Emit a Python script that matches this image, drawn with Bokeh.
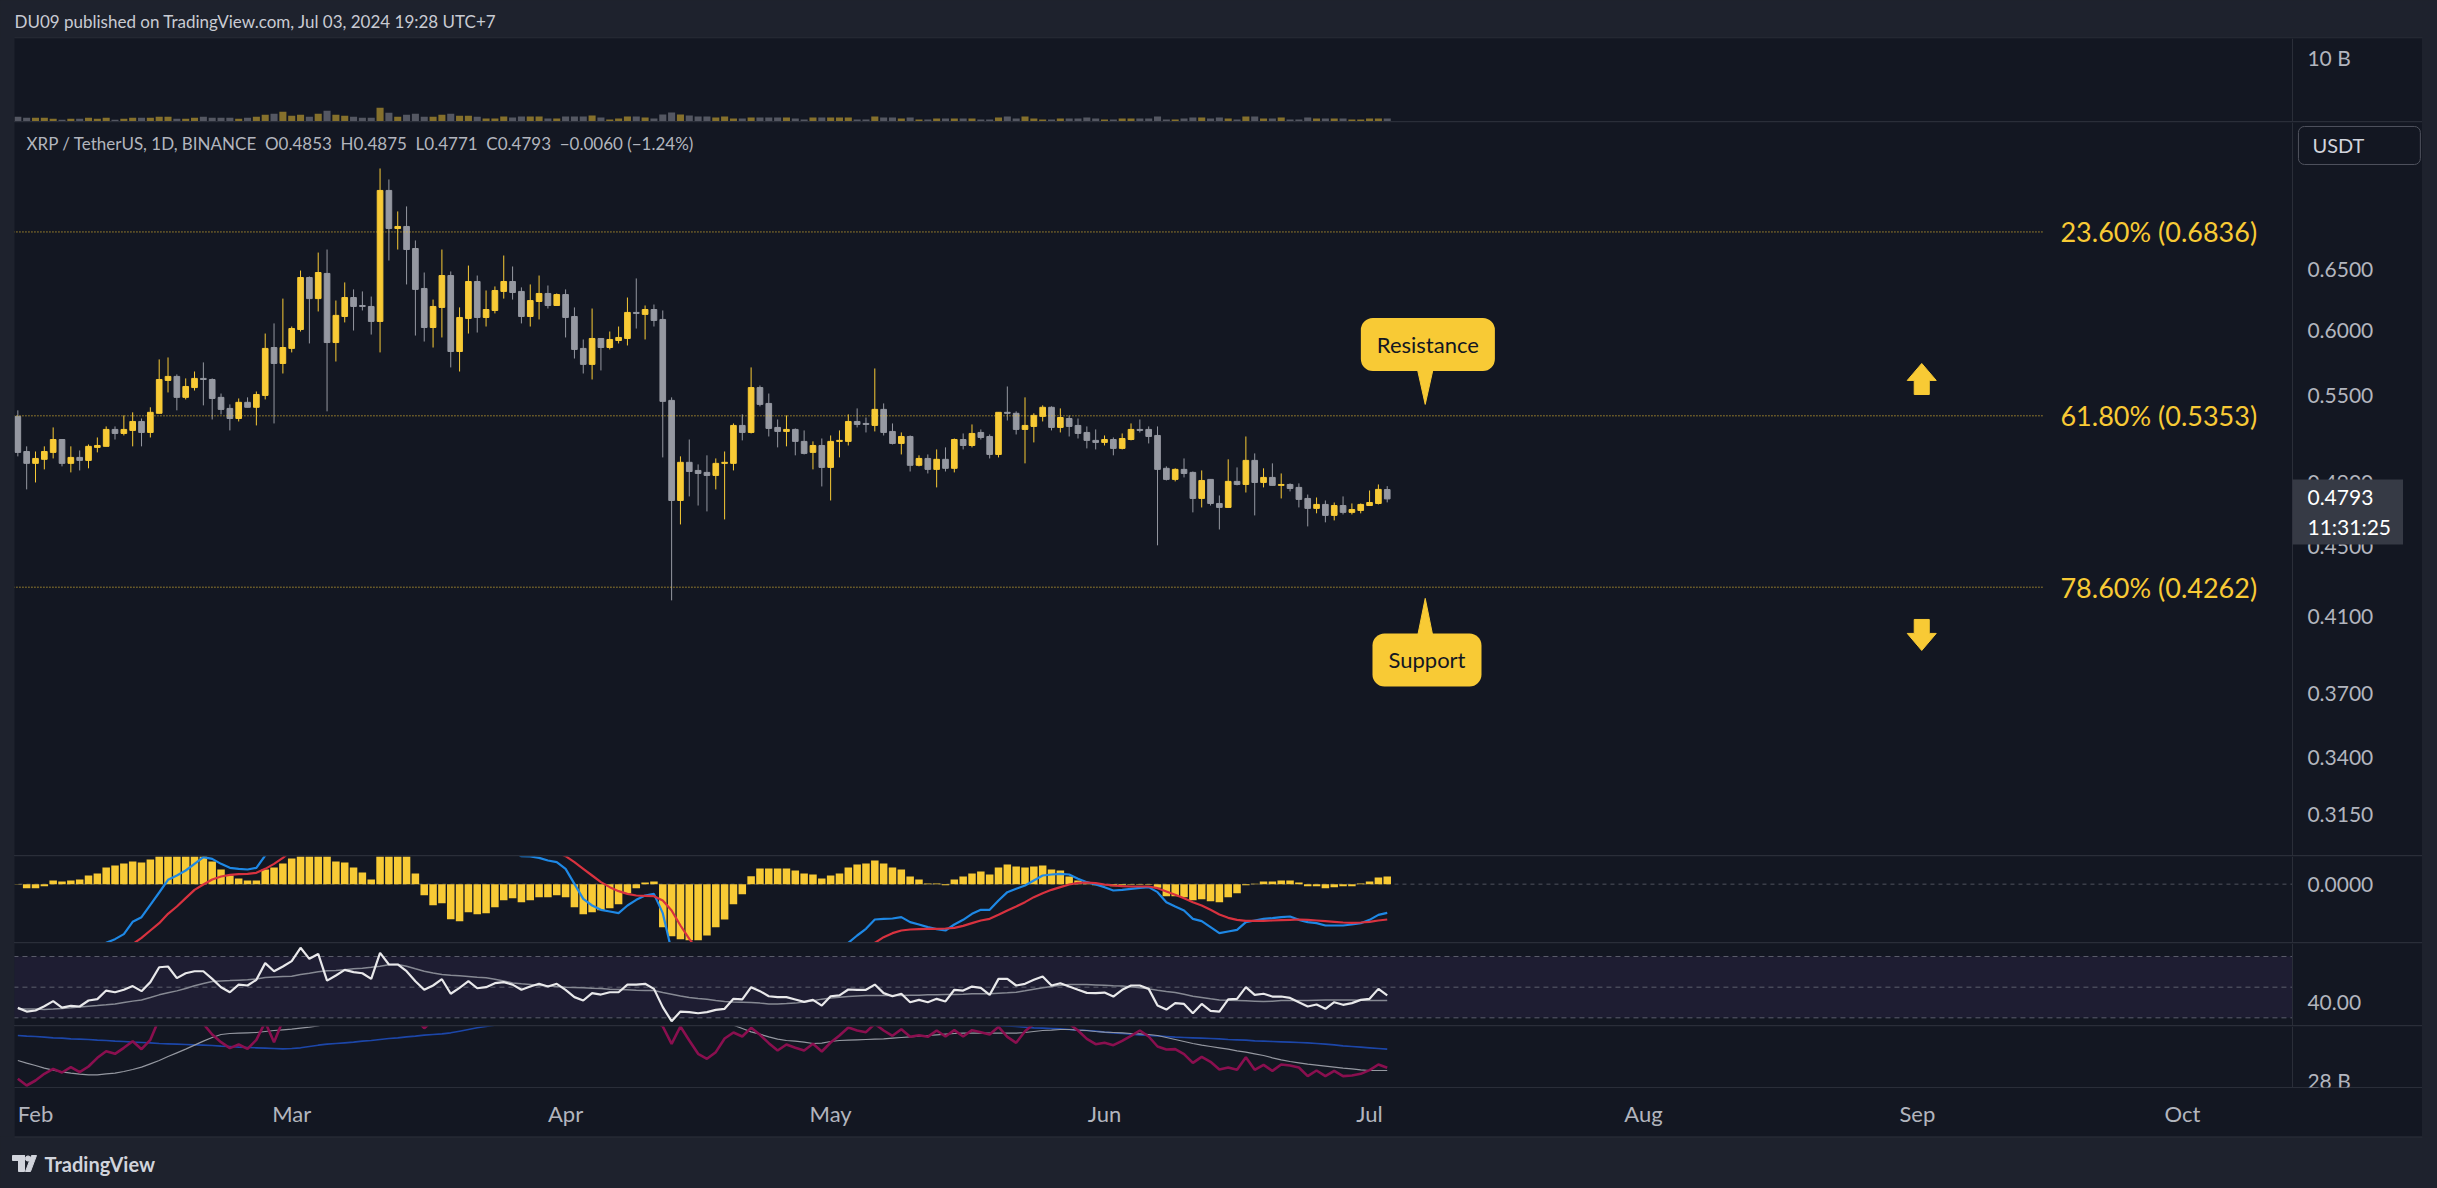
import pandas as pd
from bokeh.plotting import figure
from bokeh.layouts import column, row
from bokeh.models import (Range1d, FixedTicker, PrintfTickFormatter, DatetimeTickFormatter,
                          Span, BoxAnnotation, Label, Spacer, ColumnDataSource)
from bokeh.embed import file_html
from bokeh.resources import INLINE
from bokeh.core.properties import value

# ---------------------------------------------------------------- data
dates = pd.date_range("2024-01-30", "2024-07-03", freq="D")

open_ = [0.5349,0.5105,0.5025,0.5052,0.5099,0.5187,0.5025,0.5065,0.5045,0.5133,
 0.5140,0.5257,0.5229,0.5250,0.5313,0.5236,0.5371,0.5611,0.5641,0.5486,
 0.5558,0.5626,0.5618,0.5486,0.5406,0.5334,0.5450,0.5414,0.5500,0.5862,
 0.5739,0.5855,0.6004,0.6434,0.6256,0.6469,0.5901,0.6109,0.6265,0.6199,
 0.6191,0.6069,0.7224,0.6867,0.6886,0.6687,0.6341,0.6020,0.6183,0.6451,
 0.5831,0.6093,0.6400,0.6101,0.6158,0.6316,0.6400,0.6316,0.6109,0.6232,
 0.6299,0.6199,0.6290,0.6109,0.5855,0.5732,0.5933,0.5862,0.5917,0.5933,
 0.6142,0.6126,0.6166,0.6085,0.5464,0.4783,0.5032,0.4978,0.4965,0.4945,
 0.5025,0.5025,0.5285,0.5236,0.5558,0.5442,0.5271,0.5243,0.5257,0.5174,
 0.5099,0.5146,0.4998,0.5174,0.5174,0.5313,0.5299,0.5285,0.5399,0.5243,
 0.5160,0.5208,0.5012,0.5058,0.4985,0.5052,0.4992,0.5187,0.5146,0.5236,
 0.5208,0.5085,0.5378,0.5371,0.5257,0.5278,0.5349,0.5414,0.5271,0.5334,
 0.5285,0.5236,0.5181,0.5167,0.5187,0.5126,0.5187,0.5257,0.5257,0.5215,
 0.4992,0.4919,0.4985,0.4965,0.4796,0.4919,0.4764,0.4739,0.4906,0.4886,
 0.5045,0.4899,0.4932,0.4880,0.4886,0.4867,0.4796,0.4733,0.4758,0.4689,
 0.4751,0.4708,0.4720,0.4751,0.4764,0.4853]

high_ = [0.5392,0.5140,0.5105,0.5140,0.5271,0.5187,0.5140,0.5112,0.5153,0.5201,
 0.5278,0.5278,0.5356,0.5378,0.5334,0.5414,0.5770,0.5785,0.5656,0.5626,
 0.5678,0.5747,0.5626,0.5514,0.5435,0.5478,0.5486,0.5529,0.5972,0.6053,
 0.6256,0.6028,0.6494,0.6443,0.6651,0.6678,0.6240,0.6392,0.6333,0.6316,
 0.6273,0.7438,0.7330,0.7025,0.7072,0.6759,0.6477,0.6248,0.6678,0.6486,
 0.6183,0.6537,0.6451,0.6324,0.6358,0.6625,0.6529,0.6350,0.6375,0.6451,
 0.6366,0.6299,0.6333,0.6183,0.5925,0.6174,0.5933,0.5988,0.6028,0.6265,
 0.6426,0.6199,0.6207,0.6158,0.5486,0.5072,0.5187,0.5018,0.5079,0.5058,
 0.5105,0.5299,0.5363,0.5709,0.5573,0.5514,0.5327,0.5356,0.5264,0.5250,
 0.5174,0.5194,0.5215,0.5250,0.5363,0.5406,0.5341,0.5701,0.5442,0.5299,
 0.5236,0.5215,0.5079,0.5085,0.5119,0.5133,0.5194,0.5229,0.5292,0.5257,
 0.5222,0.5378,0.5566,0.5385,0.5486,0.5371,0.5428,0.5421,0.5406,0.5356,
 0.5334,0.5278,0.5257,0.5215,0.5201,0.5229,0.5299,0.5327,0.5278,0.5278,
 0.5005,0.4992,0.5058,0.4971,0.4978,0.4919,0.4815,0.5052,0.4998,0.5208,
 0.5092,0.4992,0.5025,0.4958,0.4893,0.4893,0.4821,0.4802,0.4783,0.4770,
 0.4809,0.4764,0.4764,0.4847,0.4886,0.4875]

low_ = [0.5072,0.4854,0.4899,0.4985,0.5058,0.5005,0.4965,0.4978,0.4992,0.5099,
 0.5140,0.5187,0.5215,0.5140,0.5140,0.5201,0.5371,0.5522,0.5392,0.5471,
 0.5536,0.5428,0.5327,0.5363,0.5250,0.5313,0.5414,0.5285,0.5471,0.5299,
 0.5663,0.5824,0.5988,0.5894,0.6150,0.5385,0.5754,0.6061,0.5996,0.6158,
 0.5964,0.5824,0.6581,0.6678,0.6375,0.5956,0.5909,0.5862,0.5941,0.5709,
 0.5678,0.5972,0.5980,0.6028,0.6134,0.6256,0.6248,0.6053,0.6028,0.6085,
 0.6174,0.6199,0.5941,0.5777,0.5663,0.5618,0.5686,0.5847,0.5894,0.5878,
 0.6012,0.5925,0.6028,0.5065,0.4188,0.4633,0.4809,0.4751,0.4714,0.4854,
 0.4664,0.4978,0.5181,0.5229,0.5421,0.5208,0.5133,0.5140,0.5079,0.5085,
 0.4985,0.4873,0.4783,0.5065,0.5146,0.5271,0.5236,0.5243,0.5215,0.5153,
 0.5085,0.4971,0.5005,0.4958,0.4867,0.4971,0.4965,0.5119,0.5133,0.5187,
 0.5058,0.5065,0.5320,0.5222,0.5025,0.5167,0.5313,0.5250,0.5236,0.5208,
 0.5194,0.5126,0.5119,0.5146,0.5079,0.5119,0.5181,0.5236,0.5160,0.4506,
 0.4912,0.4906,0.4932,0.4708,0.4739,0.4751,0.4602,0.4739,0.4880,0.4834,
 0.4689,0.4867,0.4880,0.4796,0.4841,0.4739,0.4621,0.4702,0.4646,0.4658,
 0.4695,0.4695,0.4702,0.4751,0.4758,0.4771]

close_ = [0.5099,0.5025,0.5058,0.5105,0.5187,0.5025,0.5065,0.5045,0.5140,0.5146,
 0.5257,0.5229,0.5257,0.5313,0.5236,0.5378,0.5618,0.5641,0.5486,0.5566,
 0.5626,0.5618,0.5478,0.5399,0.5334,0.5450,0.5414,0.5507,0.5855,0.5739,
 0.5862,0.6012,0.6434,0.6256,0.6477,0.5901,0.6118,0.6265,0.6191,0.6191,
 0.6069,0.7224,0.6867,0.6886,0.6678,0.6333,0.6020,0.6191,0.6451,0.5831,
 0.6101,0.6400,0.6101,0.6166,0.6324,0.6400,0.6307,0.6109,0.6240,0.6299,
 0.6199,0.6290,0.6101,0.5847,0.5732,0.5933,0.5862,0.5925,0.5941,0.6142,
 0.6134,0.6166,0.6077,0.5457,0.4783,0.5032,0.4971,0.4958,0.4945,0.5025,
 0.5032,0.5285,0.5236,0.5558,0.5435,0.5264,0.5243,0.5257,0.5174,0.5092,
 0.5146,0.4998,0.5174,0.5181,0.5313,0.5292,0.5292,0.5399,0.5236,0.5160,
 0.5208,0.5012,0.5058,0.4985,0.5052,0.4992,0.5187,0.5146,0.5229,0.5201,
 0.5085,0.5378,0.5371,0.5257,0.5285,0.5356,0.5414,0.5271,0.5341,0.5278,
 0.5229,0.5181,0.5167,0.5187,0.5126,0.5194,0.5257,0.5250,0.5208,0.4985,
 0.4919,0.4985,0.4958,0.4796,0.4912,0.4764,0.4739,0.4906,0.4886,0.5045,
 0.4899,0.4932,0.4880,0.4886,0.4860,0.4790,0.4733,0.4758,0.4689,0.4751,
 0.4708,0.4726,0.4758,0.4770,0.4854,0.4793]

volume_b = [0.73,0.58,0.58,0.58,0.42,0.27,0.42,0.42,0.58,0.42,
 0.58,0.27,0.42,0.58,0.58,0.58,0.73,0.73,0.42,0.42,
 0.58,0.73,0.58,0.58,0.58,0.42,0.58,0.73,1.05,1.20,
 1.51,0.89,1.05,0.73,1.20,1.67,1.05,0.89,0.73,0.58,
 0.58,2.14,1.36,0.73,1.05,1.20,0.73,0.73,1.05,1.20,
 0.89,0.89,0.73,0.47,0.47,0.78,0.62,0.78,0.78,0.78,
 0.47,0.47,0.78,0.78,0.78,0.94,0.62,0.31,0.47,0.78,
 0.78,0.62,0.47,1.09,1.40,1.09,0.94,0.78,0.78,0.62,
 0.78,0.47,0.47,0.62,0.62,0.62,0.62,0.62,0.47,0.31,
 0.62,0.62,0.62,0.62,0.62,0.31,0.31,0.78,0.62,0.62,
 0.47,0.62,0.31,0.31,0.47,0.47,0.47,0.47,0.47,0.31,
 0.31,0.62,0.78,0.47,0.78,0.47,0.31,0.31,0.47,0.47,
 0.47,0.62,0.47,0.31,0.31,0.47,0.47,0.47,0.47,0.78,
 0.31,0.31,0.47,0.62,0.62,0.47,0.62,0.47,0.31,0.78,
 0.78,0.47,0.47,0.62,0.31,0.31,0.62,0.47,0.47,0.47,
 0.47,0.31,0.31,0.47,0.47,0.47]

macd_hist = [-0.0001,-0.0012,-0.0012,-0.0006,0.0011,0.0008,0.0011,0.0014,0.0026,0.0032,
 0.0050,0.0056,0.0062,0.0068,0.0065,0.0074,0.0092,0.0098,0.0101,0.0097,
 0.0094,0.0088,0.0068,0.0044,0.0026,0.0017,0.0011,0.0011,0.0044,0.0050,
 0.0062,0.0077,0.0090,0.0096,0.0099,0.0092,0.0068,0.0065,0.0050,0.0035,
 0.0014,0.0095,0.0120,0.0118,0.0100,0.0032,-0.0033,-0.0063,-0.0057,-0.0105,
 -0.0111,-0.0084,-0.0090,-0.0087,-0.0069,-0.0048,-0.0042,-0.0054,-0.0048,-0.0039,
 -0.0039,-0.0033,-0.0039,-0.0069,-0.0090,-0.0084,-0.0078,-0.0072,-0.0060,-0.0027,
 -0.0012,0.0005,0.0008,-0.0129,-0.0156,-0.0165,-0.0168,-0.0168,-0.0154,-0.0129,
 -0.0106,-0.0060,-0.0030,0.0024,0.0047,0.0047,0.0047,0.0047,0.0041,0.0032,
 0.0029,0.0017,0.0026,0.0032,0.0050,0.0059,0.0062,0.0071,0.0062,0.0050,
 0.0044,0.0023,0.0014,0.0002,0.0002,-0.0003,0.0014,0.0023,0.0032,0.0038,
 0.0029,0.0050,0.0059,0.0053,0.0050,0.0053,0.0056,0.0044,0.0041,0.0023,
 0.0011,0.0003,-0.0003,-0.0003,-0.0006,-0.0003,-0.0002,-0.0002,-0.0002,-0.0011,
 -0.0036,-0.0036,-0.0039,-0.0048,-0.0045,-0.0051,-0.0054,-0.0039,-0.0027,-0.0003,
 0.0001,0.0008,0.0008,0.0011,0.0011,0.0005,-0.0006,-0.0006,-0.0012,-0.0009,
 -0.0006,-0.0006,0.0002,0.0008,0.0020,0.0023]

macd_line = [-0.0293,-0.0300,-0.0295,-0.0283,-0.0259,-0.0254,-0.0243,-0.0232,-0.0212,-0.0200,
 -0.0176,-0.0165,-0.0150,-0.0113,-0.0099,-0.0062,-0.0025,0.0013,0.0026,0.0041,
 0.0061,0.0081,0.0076,0.0061,0.0049,0.0046,0.0044,0.0049,0.0086,0.0100,
 0.0118,0.0140,0.0170,0.0190,0.0205,0.0215,0.0222,0.0225,0.0224,0.0218,
 0.0212,0.0250,0.0275,0.0285,0.0282,0.0270,0.0250,0.0232,0.0218,0.0195,
 0.0178,0.0165,0.0150,0.0137,0.0125,0.0112,0.0098,0.0084,0.0083,0.0079,
 0.0071,0.0066,0.0046,0.0001,-0.0044,-0.0064,-0.0077,-0.0082,-0.0087,-0.0064,
 -0.0047,-0.0034,-0.0029,-0.0087,-0.0200,-0.0245,-0.0285,-0.0310,-0.0325,-0.0330,
 -0.0325,-0.0310,-0.0290,-0.0262,-0.0240,-0.0222,-0.0210,-0.0200,-0.0195,-0.0192,
 -0.0190,-0.0188,-0.0185,-0.0182,-0.0176,-0.0154,-0.0134,-0.0106,-0.0104,-0.0103,
 -0.0099,-0.0114,-0.0121,-0.0129,-0.0135,-0.0139,-0.0121,-0.0107,-0.0089,-0.0077,
 -0.0077,-0.0049,-0.0024,-0.0014,-0.0004,0.0011,0.0026,0.0029,0.0031,0.0029,
 0.0016,0.0006,-0.0001,-0.0009,-0.0019,-0.0017,-0.0014,-0.0011,-0.0009,-0.0024,
 -0.0054,-0.0067,-0.0079,-0.0104,-0.0111,-0.0129,-0.0147,-0.0142,-0.0137,-0.0114,
 -0.0109,-0.0104,-0.0102,-0.0099,-0.0097,-0.0107,-0.0114,-0.0117,-0.0124,-0.0124,
 -0.0124,-0.0121,-0.0117,-0.0107,-0.0092,-0.0086]

signal_line = [-0.0292,-0.0288,-0.0283,-0.0277,-0.0270,-0.0262,-0.0254,-0.0246,-0.0238,-0.0232,
 -0.0226,-0.0221,-0.0212,-0.0180,-0.0161,-0.0139,-0.0117,-0.0089,-0.0067,-0.0042,
 -0.0017,-0.0001,0.0014,0.0023,0.0028,0.0030,0.0031,0.0034,0.0046,0.0061,
 0.0079,0.0100,0.0120,0.0140,0.0160,0.0178,0.0192,0.0203,0.0210,0.0214,
 0.0216,0.0222,0.0232,0.0242,0.0250,0.0255,0.0257,0.0256,0.0253,0.0248,
 0.0240,0.0230,0.0220,0.0208,0.0195,0.0180,0.0165,0.0150,0.0136,0.0122,
 0.0108,0.0095,0.0084,0.0066,0.0046,0.0026,0.0006,-0.0009,-0.0021,-0.0029,
 -0.0034,-0.0035,-0.0036,-0.0049,-0.0079,-0.0124,-0.0164,-0.0200,-0.0225,-0.0245,
 -0.0260,-0.0270,-0.0275,-0.0275,-0.0272,-0.0268,-0.0262,-0.0255,-0.0248,-0.0240,
 -0.0232,-0.0225,-0.0218,-0.0210,-0.0202,-0.0195,-0.0188,-0.0176,-0.0159,-0.0147,
 -0.0139,-0.0136,-0.0135,-0.0134,-0.0134,-0.0133,-0.0131,-0.0125,-0.0117,-0.0109,
 -0.0104,-0.0092,-0.0079,-0.0067,-0.0054,-0.0039,-0.0027,-0.0017,-0.0009,-0.0001,
 0.0004,0.0005,0.0003,-0.0001,-0.0004,-0.0006,-0.0007,-0.0007,-0.0007,-0.0012,
 -0.0022,-0.0032,-0.0042,-0.0054,-0.0064,-0.0077,-0.0091,-0.0101,-0.0107,-0.0110,
 -0.0110,-0.0110,-0.0109,-0.0108,-0.0107,-0.0106,-0.0107,-0.0109,-0.0111,-0.0113,
 -0.0115,-0.0116,-0.0115,-0.0113,-0.0109,-0.0106]

rsi = [36.5,34.1,34.8,37.6,40.9,36.7,37.8,37.4,41.3,42.2,
 47.8,46.7,48.3,50.7,47.4,53.3,63.0,63.5,55.9,59.1,
 60.4,60.4,55.4,50.0,46.7,51.7,51.1,54.8,65.7,60.4,
 63.5,67.0,75.7,68.5,71.7,54.3,57.6,61.3,59.8,59.1,
 55.4,72.4,64.8,64.8,60.4,53.9,48.3,51.1,55.2,45.7,
 49.6,53.9,49.3,50.0,52.6,53.3,51.7,48.3,50.4,52.2,
 50.4,52.2,48.3,43.5,41.3,46.1,45.2,46.7,46.7,51.7,
 51.7,52.2,48.9,37.0,27.8,34.1,33.7,33.0,33.7,35.2,
 35.9,42.4,42.0,50.0,47.4,44.1,43.5,43.5,42.0,40.4,
 41.7,38.0,44.1,44.6,48.5,48.3,48.3,51.7,46.1,44.1,
 45.7,40.2,41.7,40.2,42.4,40.7,48.3,47.8,50.4,49.6,
 45.0,55.4,55.4,51.1,52.2,54.8,57.0,51.1,52.6,50.4,
 48.3,46.3,46.1,46.5,43.9,48.3,51.1,51.1,48.9,38.0,
 35.4,39.6,39.1,33.0,39.1,34.6,34.1,42.0,42.4,50.0,
 45.0,45.7,43.9,43.9,43.0,40.2,37.4,38.7,35.9,40.2,
 38.5,39.6,41.7,42.4,48.9,44.6]

rsi_ma = [35.9,35.8,35.7,35.4,35.7,36.1,36.5,37.0,37.6,38.0,
 38.5,39.1,40.0,40.9,41.7,43.3,45.0,46.3,47.6,49.1,
 50.9,52.4,53.7,54.1,54.3,54.6,54.8,55.4,56.3,56.7,
 57.0,57.2,58.3,59.1,60.0,60.7,60.9,61.3,62.0,62.4,
 63.0,63.7,64.6,64.8,63.7,62.0,60.4,59.3,58.3,57.8,
 57.4,57.0,56.5,56.1,55.2,54.1,52.8,52.2,51.7,51.1,
 50.9,50.4,50.0,49.8,49.6,49.3,49.1,48.7,48.5,48.3,
 48.0,47.8,47.8,46.5,45.4,44.3,43.3,42.6,42.2,41.3,
 40.7,40.4,40.2,40.0,39.6,39.1,39.1,39.3,39.6,40.4,
 41.1,42.2,43.0,43.5,43.9,44.3,44.6,44.6,44.6,44.6,
 44.6,44.8,44.8,45.0,45.0,45.2,45.2,45.4,45.7,45.7,
 45.7,46.1,46.3,46.7,47.6,48.7,49.6,50.4,51.3,51.7,
 51.7,51.7,51.5,51.3,50.9,50.7,50.2,49.6,48.9,48.0,
 47.2,46.5,45.4,44.1,43.3,42.4,41.7,41.5,41.3,41.1,
 40.9,40.7,40.9,41.3,41.3,41.3,41.3,41.5,41.7,41.7,
 41.7,41.7,41.5,41.3,41.3,41.3]

# bottom pane (billions)
ind_maroon = [28.25,27.25,28.0,29.0,29.75,29.2,30.0,29.25,30.1,31.4,
 32.4,32.0,32.9,33.9,32.7,34.1,37.25,38.0,37.75,38.25,
 38.5,36.5,34.9,33.75,32.85,33.4,32.75,34.1,36.75,33.75,
 37.0,37.75,38.25,38.75,39.0,38.5,38.0,38.25,38.75,38.5,
 38.0,39.0,39.5,39.0,38.25,37.25,35.85,37.0,37.5,36.75,
 36.5,37.0,37.25,37.5,37.75,37.5,37.25,37.0,37.25,37.5,
 37.75,37.5,37.25,37.0,36.75,37.0,37.25,37.5,37.25,37.0,
 37.1,37.25,37.0,36.1,33.5,36.1,34.0,32.0,31.25,32.25,
 34.3,35.2,34.6,35.9,34.85,33.6,32.5,33.4,32.9,32.5,
 33.5,32.35,33.7,34.75,35.95,35.5,35.25,36.5,35.5,34.7,
 35.7,34.55,34.8,34.55,35.5,34.6,35.55,34.6,35.55,35.25,
 34.9,36.05,34.55,33.65,35.4,36.5,37.0,37.25,37.0,36.5,
 35.5,34.25,33.45,33.65,33.3,33.95,34.7,35.5,34.6,33.1,
 32.65,32.7,31.95,30.65,31.55,30.8,29.65,29.95,29.6,31.5,
 29.6,30.35,29.45,30.4,30.25,29.95,28.65,29.5,28.65,29.45,
 28.65,28.75,29.0,29.55,30.4,29.9]

ind_grey = [31.0,30.6,30.25,29.85,29.55,29.3,29.1,28.95,28.85,28.85,
 29.0,29.1,29.35,29.65,30.0,30.5,31.0,31.6,32.15,32.7,
 33.3,33.9,34.45,34.9,35.05,35.1,35.15,35.2,35.35,35.5,
 35.6,35.7,35.85,36.0,36.2,36.5,36.75,37.0,37.2,37.4,
 37.6,37.8,38.0,38.2,38.4,38.5,38.6,38.65,38.7,38.75,
 38.75,38.75,38.7,38.65,38.6,38.55,38.5,38.4,38.3,38.2,
 38.1,38.0,37.9,37.8,37.7,37.6,37.6,37.7,37.8,37.9,
 37.95,38.0,38.0,37.95,37.9,37.8,37.65,37.45,37.2,36.9,
 36.6,36.3,35.8,35.3,34.95,34.55,34.2,34.0,33.9,33.75,
 33.55,33.6,33.85,34.0,34.05,34.1,34.15,34.2,34.25,34.35,
 34.45,34.55,34.65,34.75,34.85,34.95,35.05,35.1,35.1,35.1,
 35.1,35.1,35.1,35.1,35.2,35.35,35.5,35.55,35.65,35.65,
 35.55,35.5,35.35,35.25,35.2,35.15,35.05,35.0,34.9,34.75,
 34.45,34.15,33.85,33.55,33.3,33.1,32.9,32.7,32.45,32.25,
 32.0,31.75,31.4,31.1,30.85,30.65,30.45,30.3,30.15,30.0,
 29.85,29.75,29.6,29.5,29.5,29.5]

ind_blue = [34.75,34.65,34.6,34.5,34.4,34.35,34.25,34.2,34.15,34.05,
 34.0,33.9,33.85,33.75,33.7,33.65,33.55,33.5,33.45,33.4,
 33.35,33.3,33.25,33.15,33.1,33.0,32.95,32.9,32.85,32.8,
 32.75,32.8,32.9,33.1,33.3,33.45,33.55,33.65,33.75,33.9,
 34.0,34.15,34.3,34.4,34.55,34.65,34.8,34.9,35.0,35.15,
 35.4,35.65,35.9,36.1,36.3,36.5,36.7,36.9,37.1,37.3,
 37.45,37.6,37.75,37.9,38.05,38.2,38.3,38.4,38.5,38.6,
 38.7,38.75,38.8,38.85,38.9,38.95,39.0,39.0,39.0,39.0,
 39.0,38.95,38.9,38.85,38.8,38.75,38.7,38.6,38.5,38.4,
 38.3,38.2,38.1,38.0,37.9,37.8,37.7,37.6,37.5,37.4,
 37.3,37.2,37.1,37.0,36.9,36.8,36.7,36.6,36.5,36.4,
 36.3,36.25,36.2,36.1,36.0,35.9,35.85,35.8,35.75,35.65,
 35.55,35.5,35.4,35.25,35.15,35.05,34.95,34.85,34.75,34.7,
 34.6,34.5,34.45,34.4,34.35,34.3,34.25,34.15,34.1,34.05,
 33.95,33.9,33.85,33.8,33.75,33.7,33.65,33.55,33.45,33.35,
 33.2,33.1,33.0,32.9,32.8,32.7]

price_ticks = [0.315, 0.34, 0.37, 0.41, 0.45, 0.49, 0.55, 0.60, 0.65]
month_ticks = ["2024-02-01", "2024-03-01", "2024-04-01", "2024-05-01", "2024-06-01",
               "2024-07-01", "2024-08-01", "2024-09-01", "2024-10-01"]
fib_pct = ["23.60%", "61.80%", "78.60%"]
fib_price = [0.6836, 0.5353, 0.4262]
last_price = 0.4793
countdown = "11:31:25"
header_text = "DU09 published on TradingView.com, Jul 03, 2024 19:28 UTC+7"
legend_text = ("XRP / TetherUS, 1D, BINANCE\u00a0\u00a0O0.4853\u00a0\u00a0H0.4875\u00a0\u00a0"
               "L0.4771\u00a0\u00a0C0.4793\u00a0\u00a0\u22120.0060 (\u22121.24%)")

# ---------------------------------------------------------------- style
BG = "#131722"; PAGE = "#1e222d"; GRID = "#2a2e39"; TXT = "#b2b5be"
UP = "#f8ca35"; DOWN = "#9598a1"
FONT = "Lato"
DAY = 86400000.0

def ms(ts):
    return pd.Timestamp(ts).value / 1e6

FEB1 = pd.Timestamp("2024-02-01")
def d(days):
    return ms(FEB1 + pd.Timedelta(days=days))

# frame spans the plot area plus the price-scale strip on the right
XR = Range1d(start=d(-2.377), end=d(270.18))
AXIS_X = d(255.46)          # where the price scale begins

def style_yaxis(p, ticks, fmt, size="21px"):
    ax = p.yaxis[0]
    ax.fixed_location = AXIS_X
    ax.ticker = FixedTicker(ticks=ticks)
    ax.formatter = PrintfTickFormatter(format=fmt)
    ax.major_tick_line_color = None
    ax.minor_tick_line_color = None
    ax.major_tick_out = 0
    ax.major_tick_in = 0
    ax.axis_line_color = GRID
    ax.major_label_text_color = TXT
    ax.major_label_text_font = FONT
    ax.major_label_text_font_size = size
    ax.major_label_standoff = 15

def pane(h, yr, ytype="linear", bottom=0):
    p = figure(width=2408, height=h, x_range=XR, y_range=yr, x_axis_type="datetime",
               y_axis_type=ytype, y_axis_location="right",
               x_axis_location=("below" if bottom else None),
               toolbar_location=None, output_backend="svg",
               min_border_left=0, min_border_right=0, min_border_top=0,
               min_border_bottom=bottom, background_fill_color=BG,
               border_fill_color=BG, outline_line_color=None)
    p.xgrid.visible = False
    p.ygrid.visible = False
    return p

up = [c >= o for o, c in zip(open_, close_)]
src = ColumnDataSource(dict(
    x=[ms(t) for t in dates], o=open_, h=high_, l=low_, c=close_,
    top=[max(o, c) for o, c in zip(open_, close_)],
    bot=[min(o, c) for o, c in zip(open_, close_)],
    col=[UP if u else DOWN for u in up], vol=volume_b,
    hist=macd_hist, macd=macd_line, sig=signal_line, rsi=rsi, rsi_ma=rsi_ma,
    maroon=ind_maroon, grey=ind_grey, blue=ind_blue))

# ---------------------------------------------------------------- volume pane
pv = pane(83, Range1d(0, 12.97))
style_yaxis(pv, [10], "%d B")
pv.vbar(x="x", top="vol", bottom=0, width=0.8 * DAY, source=src,
        fill_color="col", fill_alpha=0.5, line_color=None)

# ---------------------------------------------------------------- main pane
pm = pane(733, Range1d(0.2983, 0.7907), ytype="log")
style_yaxis(pm, price_ticks, "%.4f")
pm.segment(x0="x", y0="h", x1="x", y1="l", source=src, line_color="col", line_width=1)
pm.vbar(x="x", top="top", bottom="bot", width=0.64 * DAY, source=src,
        fill_color="col", line_color="col", line_width=1)

for pct, lvl in zip(fib_pct, fib_price):
    pm.segment(x0=[d(-30)], y0=[lvl], x1=[d(227.3)], y1=[lvl],
               line_color=UP, line_width=1, line_dash="1 2")
    pm.add_layout(Label(x=d(229.2), y=lvl, text=f"{pct} ({lvl:.4f})",
                        text_color=UP, text_font=FONT, text_font_size="27px",
                        text_align="left", text_baseline="middle"))

pm.add_layout(Label(x=d(-1.02), y=0.769, text=legend_text, text_color=TXT,
                    text_font=FONT, text_font_size="17px", text_align="left",
                    text_baseline="middle"))

# arrows
pm.patch(x=[d(211.86), d(213.5), d(215.14), d(214.35), d(214.35), d(212.65), d(212.65)],
         y=[0.5611, 0.5739, 0.5611, 0.5611, 0.5507, 0.5507, 0.5611],
         fill_color=UP, line_color=UP)
pm.patch(x=[d(212.65), d(214.35), d(214.35), d(215.14), d(213.5), d(211.86), d(212.65)],
         y=[0.4083, 0.4083, 0.4008, 0.4008, 0.3918, 0.4008, 0.4008],
         fill_color=UP, line_color=UP)

# callouts
pm.patch(x=[d(156.4), d(157.3), d(158.2)], y=[0.5700, 0.5435, 0.5700],
         fill_color=UP, line_color=UP)
pm.add_layout(Label(x=d(157.6), y=0.5886, text="Resistance", text_color=BG,
                    text_font=FONT, text_font_size="22px", text_align="center",
                    text_baseline="middle", background_fill_color=UP,
                    border_radius=12, padding=dict(left=16, right=16, top=13, bottom=13)))
pm.patch(x=[d(156.4), d(157.3), d(158.2)], y=[0.3985, 0.4199, 0.3985],
         fill_color=UP, line_color=UP)
pm.add_layout(Label(x=d(157.5), y=0.3869, text="Support", text_color=BG,
                    text_font=FONT, text_font_size="22px", text_align="center",
                    text_baseline="middle", background_fill_color=UP,
                    border_radius=12, padding=dict(left=16, right=16, top=13, bottom=13)))

# price-scale badges
pm.add_layout(Label(x=AXIS_X, y=0.7669, x_offset=6, text="USDT", text_color="#d1d4dc",
                    text_font=FONT, text_font_size="20px", text_align="left",
                    text_baseline="middle", background_fill_color=BG,
                    border_line_color="#50535e", border_radius=6,
                    padding=dict(left=14, right=56, top=7, bottom=7)))
pm.add_layout(Label(x=AXIS_X, y=last_price, y_offset=-13,
                    text=f"{last_price:.4f}\n{countdown}", text_color="#ffffff",
                    text_font=FONT, text_font_size="21px", text_align="left",
                    text_baseline="middle", background_fill_color="#363a45",
                    padding=dict(left=15, right=12, top=5, bottom=5)))

# ---------------------------------------------------------------- MACD pane
pmacd = pane(86, Range1d(-0.0175, 0.0083))
style_yaxis(pmacd, [0], "%.4f")
pmacd.segment(x0=[d(-30)], y0=[0], x1=[AXIS_X], y1=[0], line_color="#787b86",
              line_alpha=0.6, line_dash="4 4", line_width=1)
pmacd.vbar(x="x", top="hist", bottom=0, width=0.85 * DAY, source=src,
           fill_color=UP, line_color=None)
pmacd.line(x="x", y="macd", source=src, line_color="#1e88e5", line_width=2.2)
pmacd.line(x="x", y="sig", source=src, line_color="#d8323f", line_width=2.2)

# ---------------------------------------------------------------- RSI pane
prsi = pane(82, Range1d(25.0, 78.5))
style_yaxis(prsi, [40], "%.2f")
prsi.quad(left=[d(-30)], right=[AXIS_X], bottom=[30], top=[70],
          fill_color="#7e57c2", fill_alpha=0.1, line_color=None)
for lv in (70, 50, 30):
    prsi.segment(x0=[d(-30)], y0=[lv], x1=[AXIS_X], y1=[lv], line_color="#787b86",
                 line_alpha=0.7, line_dash="5 4", line_width=1)
prsi.line(x="x", y="rsi_ma", source=src, line_color="#868993", line_width=1.5)
prsi.line(x="x", y="rsi", source=src, line_color="#e8e8ea", line_width=2.2)

# ---------------------------------------------------------------- bottom pane + time axis
pb = pane(110, Range1d(26.95, 36.1), bottom=49)
style_yaxis(pb, [28], "%d B")
pb.line(x="x", y="blue", source=src, line_color="#1c46a8", line_width=1.6)
pb.line(x="x", y="grey", source=src, line_color="#9598a1", line_width=1.2)
pb.line(x="x", y="maroon", source=src, line_color="#8a0f4f", line_width=2.6)
xa = pb.xaxis[0]
xa.ticker = FixedTicker(ticks=[ms(m) for m in month_ticks])
fmt = "%b"
xa.formatter = DatetimeTickFormatter(microseconds=fmt, milliseconds=fmt, seconds=fmt,
                                     minsec=fmt, minutes=fmt, hourmin=fmt, hours=fmt,
                                     days=fmt, months=fmt, years=fmt)
xa.major_tick_line_color = None
xa.minor_tick_line_color = None
xa.major_tick_out = 0
xa.major_tick_in = 0
xa.axis_line_color = GRID
xa.major_label_text_color = TXT
xa.major_label_text_font = FONT
xa.major_label_text_font_size = "22px"
xa.major_label_standoff = 12

# ---------------------------------------------------------------- header / footer
def canvas(h, y_top):
    p = figure(width=2437, height=h, x_range=Range1d(0, 2437),
               y_range=Range1d(y_top + h, y_top), toolbar_location=None,
               output_backend="svg", min_border=0, x_axis_location=None,
               y_axis_location=None, background_fill_color=PAGE,
               border_fill_color=PAGE, outline_line_color=None)
    p.xgrid.visible = False
    p.ygrid.visible = False
    return p

ph = canvas(38, 0)
ph.text(x=[14], y=[21], text=[header_text], text_font=value(FONT),
        text_font_size="17px", text_color="#c9cbd3", text_baseline="middle")
ph.segment(x0=[14], y0=[37.5], x1=[2422], y1=[37.5], line_color=GRID, line_width=1)

pf = canvas(52, 1136)
pf.segment(x0=[14], y0=[1136.5], x1=[2422], y1=[1136.5], line_color=GRID, line_width=1)
# logo
pf.quad(left=[12], right=[24], top=[1155], bottom=[1160], color="#d1d4dc")
pf.quad(left=[18], right=[24], top=[1155], bottom=[1171], color="#d1d4dc")
pf.circle(x=[27.5], y=[1158], radius=2.6, color="#d1d4dc")
pf.patch(x=[31, 36, 30, 25], y=[1155, 1155, 1171, 1171], color="#d1d4dc")
pf.text(x=[44], y=[1163], text=["TradingView"], text_font=value(FONT),
        text_font_size="20px", text_font_style="bold", text_color="#d1d4dc",
        text_baseline="middle")

def sep():
    return Spacer(width=2408, height=1, styles={"background-color": GRID})

charts = column(pv, sep(), pm, sep(), pmacd, sep(), prsi, sep(), pb, spacing=0)
mid = row(Spacer(width=14, height=1098), charts, Spacer(width=15, height=1098),
          spacing=0, styles={"background-color": PAGE})
root = column(ph, mid, pf, spacing=0, styles={"background-color": PAGE})

open("out.html", "w").write(file_html(root, INLINE))
